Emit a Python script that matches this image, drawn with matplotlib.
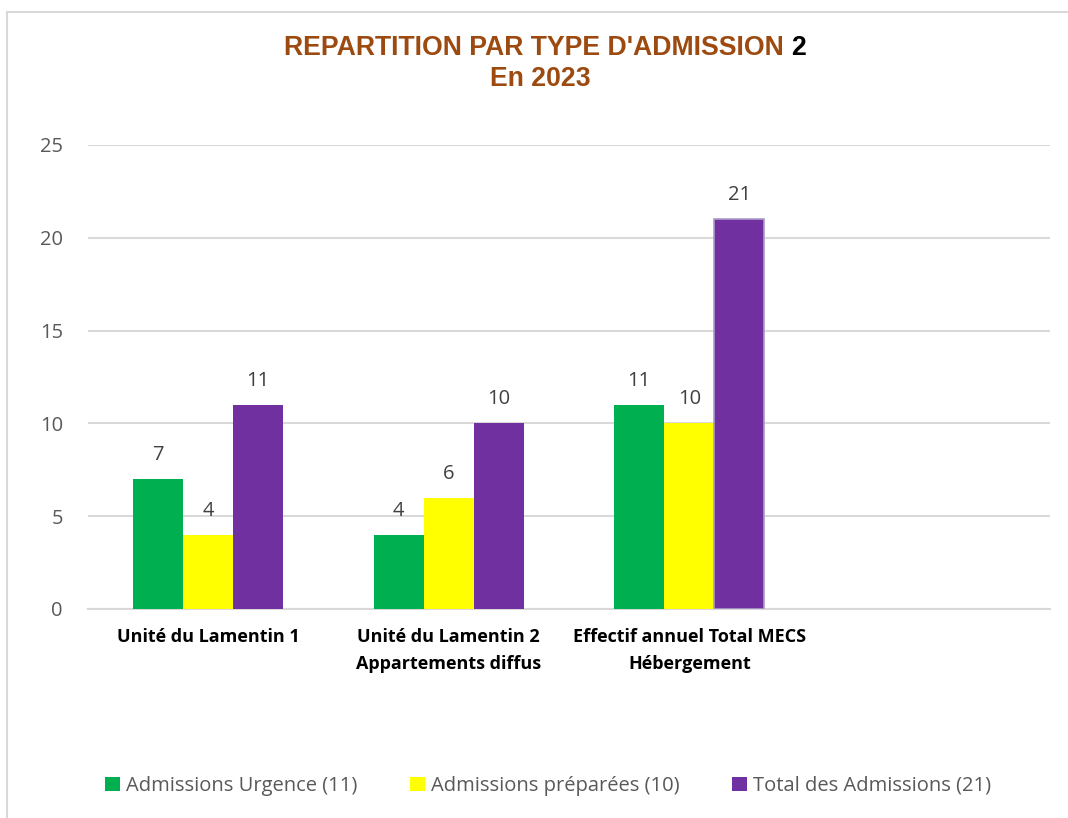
import matplotlib
matplotlib.use("Agg")
import matplotlib.pyplot as plt
from matplotlib.patches import Rectangle, Patch
import numpy as np

categories = ["Unité du Lamentin 1", "Unité du Lamentin 2\nAppartements diffus",
              "Effectif annuel Total MECS\nHébergement", ""]
series_names = ["Admissions Urgence (11)", "Admissions préparées (10)", "Total des Admissions (21)"]
urgence = [7, 4, 11, None]
preparees = [4, 6, 10, None]
total = [11, 10, 21, None]
yticks = [0, 5, 10, 15, 20, 25]

colors = ["#00B050", "#FFFF00", "#7030A0"]

fig = plt.figure(figsize=(10.68, 8.18), dpi=100)
fig.patches.append(Rectangle((7/1068, -0.05), 1.2, 1 - 12/818 + 0.05, transform=fig.transFigure,
                             fill=False, edgecolor="#D9D9D9", linewidth=1.5))

ax = fig.add_axes([88/1068, 1 - 609/818, (1050 - 88)/1068, (609 - 145)/818])
ax.set_xlim(-0.5, 3.5)
ax.set_ylim(0, 25)

w = 50 / 240.5
x = np.arange(len(categories))
for i, (vals, col) in enumerate(zip([urgence, preparees, total], colors)):
    for j, v in enumerate(vals):
        if v is None:
            continue
        xc = x[j] + (i - 1) * w
        ec = "#AC9CC8" if (i == 2 and j == 2) else col
        lw = 1.2 if (i == 2 and j == 2) else 0
        ax.bar(xc, v, width=w, color=col, edgecolor=ec, linewidth=lw, zorder=3)
        ax.text(xc, v + 0.75, str(v), ha="center", va="bottom", fontsize=14.5,
                color="#404040", family="Open Sans")

ax.set_yticks(yticks)
ax.set_yticklabels([str(t) for t in yticks], fontsize=14.5, color="#595959", family="Open Sans")
ax.yaxis.grid(True, color="#D9D9D9", linewidth=1.5, zorder=0)
ax.set_axisbelow(True)
ax.tick_params(axis="y", length=0, pad=18)
ax.tick_params(axis="x", length=0, pad=14)
ax.set_xticks(x)
ax.set_xticklabels(categories, fontsize=13, fontweight="bold", color="black",
                   family="Open Sans", linespacing=1.6)
for s in ["top", "right", "left"]:
    ax.spines[s].set_visible(False)
ax.spines["bottom"].set_color("#D9D9D9")
ax.spines["bottom"].set_linewidth(1.5)

brown = "#9C4A0F"
fig.text(791/1068, 1 - 48/818, "REPARTITION PAR TYPE D'ADMISSION ", ha="right", va="center",
         fontsize=19.2, fontweight="bold", color=brown, family="Liberation Sans")
fig.text(791/1068, 1 - 48/818, "2", ha="left", va="center", fontsize=19.2, fontweight="bold",
         color="black", family="Liberation Sans")
fig.text(540/1068, 1 - 79/818, "En 2023", ha="center", va="center", fontsize=19.2,
         fontweight="bold", color=brown, family="Liberation Sans")

handles = [Patch(facecolor=c, edgecolor="none") for c in colors]
fig.legend(handles, series_names, loc="center", bbox_to_anchor=(548/1068, 1 - 786/818),
           ncol=3, frameon=False, handlelength=0.75, handleheight=0.75, handletextpad=0.3,
           columnspacing=2.6, prop={"family": "Open Sans", "size": 14.5},
           labelcolor="#595959")

fig.savefig("out.png", dpi=100)
